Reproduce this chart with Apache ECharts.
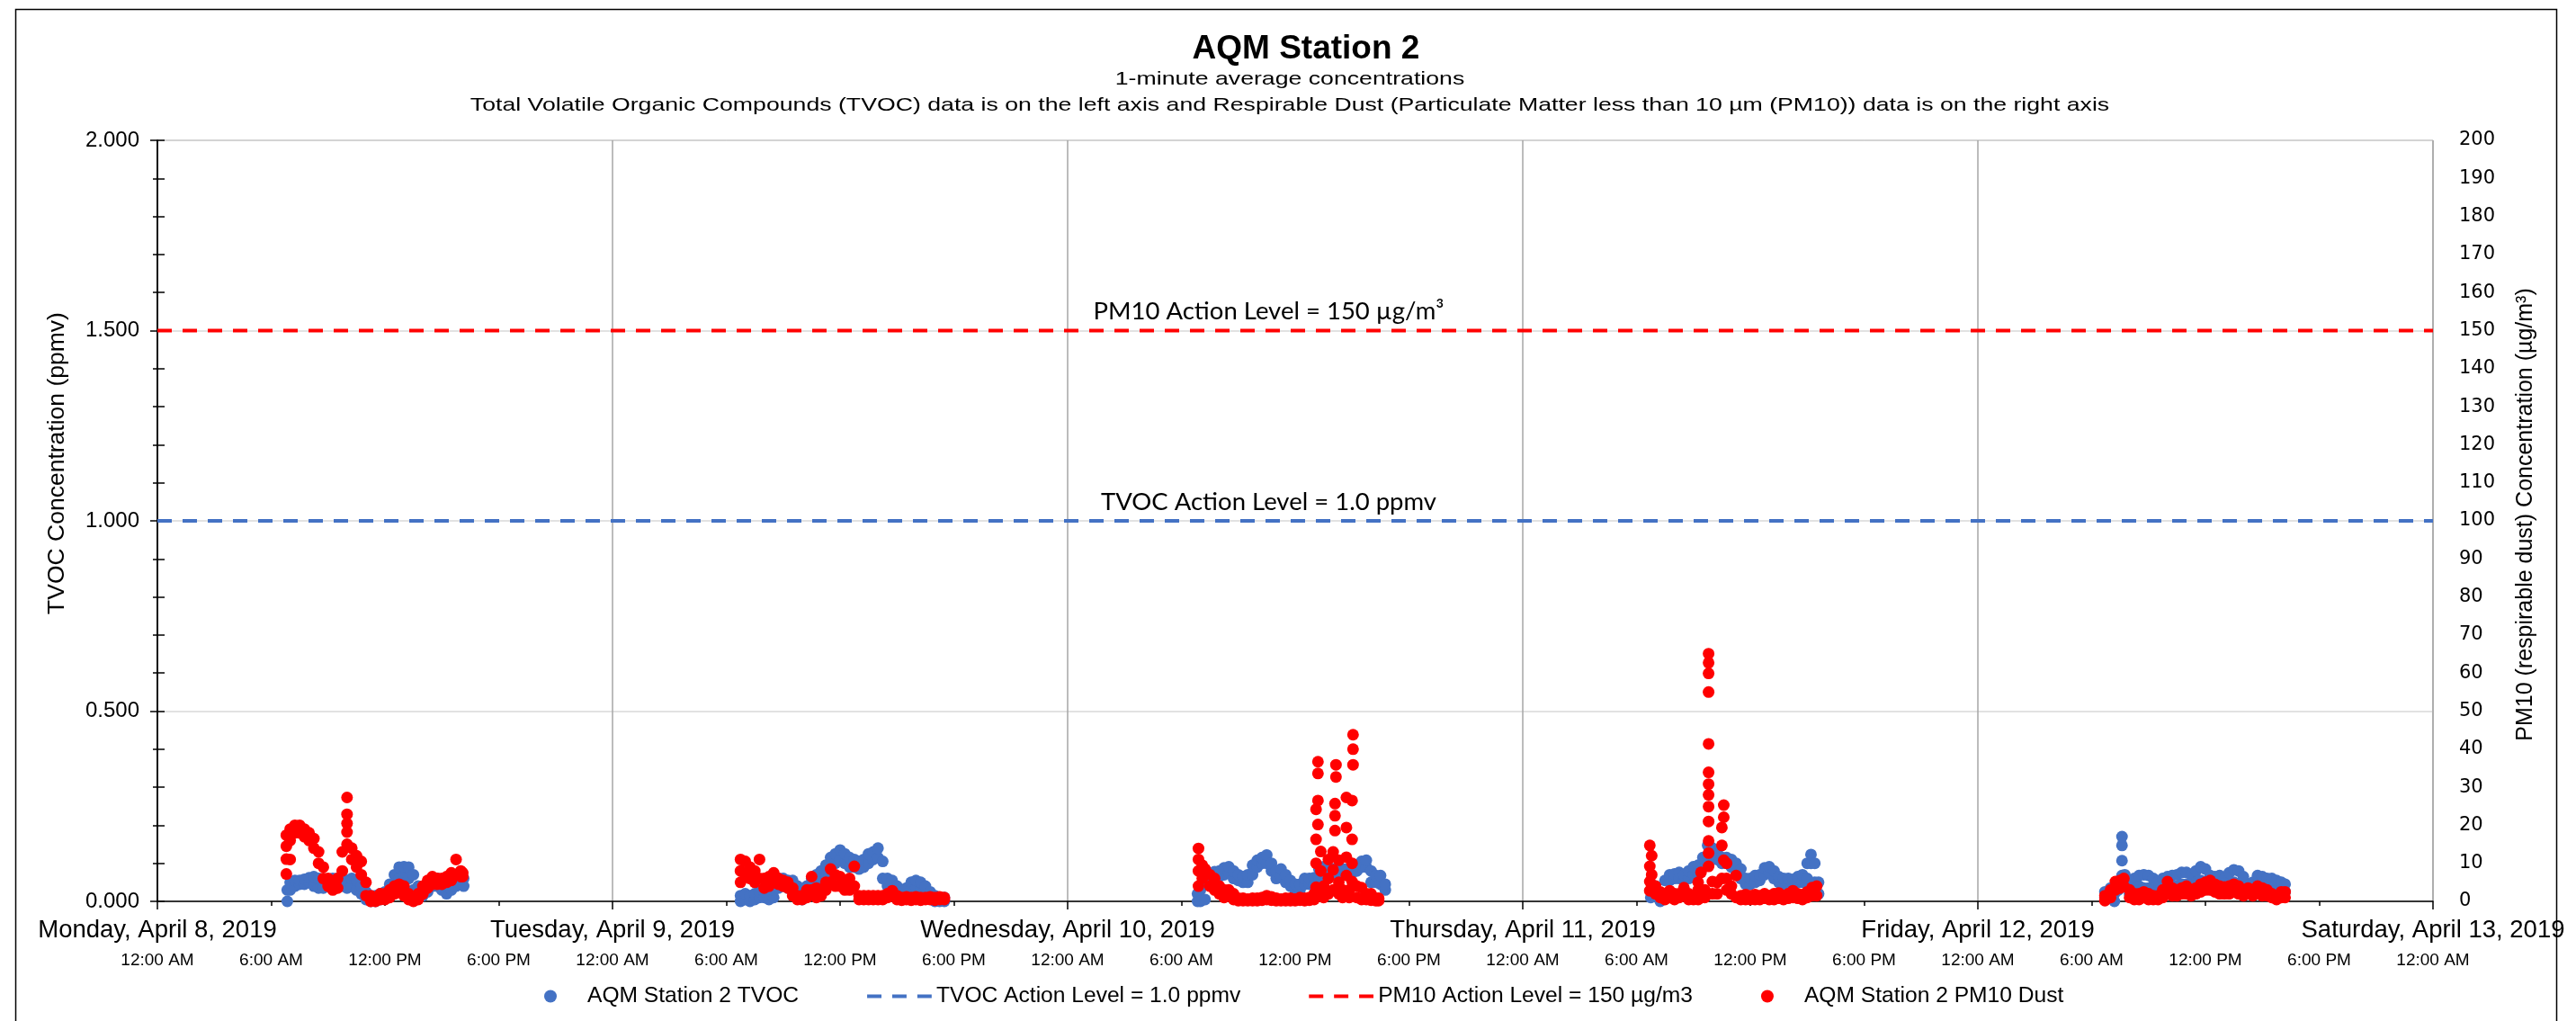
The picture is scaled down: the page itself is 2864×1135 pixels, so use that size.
<!DOCTYPE html>
<html>
<head>
<meta charset="utf-8">
<title>AQM Station 2</title>
<script src="https://cdn.jsdelivr.net/npm/echarts@6/dist/echarts.min.js"></script>
<style>
    html, body { margin: 0; padding: 0; background: #fff; }
    #container { width: 2864px; height: 1135px; }
</style>
</head>
<body>
<div id="container"></div>
<script>
//DATA
var dayLabels = ['Monday, April 8, 2019', 'Tuesday, April 9, 2019', 'Wednesday, April 10, 2019',
    'Thursday, April 11, 2019', 'Friday, April 12, 2019', 'Saturday, April 13, 2019'];
var timeLabels = ['12:00 AM', '6:00 AM', '12:00 PM', '6:00 PM'];
var tvocAction = 1.0;
var pm10Action = 150;

// each row: [hour of the day, readings at that time...]  TVOC in ppmv, PM10 in ug/m3
var tvocMon = [[6.85,0.0,0.03],[7.0,0.03,0.05],[7.25,0.04,0.055],[7.5,0.045,0.055],[7.75,0.045,0.058],[8.0,0.05,0.062],[8.25,0.04,0.065],[8.5,0.035,0.06],[8.75,0.035,0.055],[9.0,0.04,0.055],[9.25,0.04,0.06],[9.5,0.04,0.06],[9.75,0.04,0.06],[10.0,0.035,0.055],[10.25,0.04,0.06],[10.5,0.03,0.055],[10.75,0.02,0.04],[11.0,0.005,0.025],[11.25,0.0,0.015],[11.5,0.0,0.015],[11.75,0.005,0.02],[12.0,0.01,0.025],[12.25,0.015,0.045],[12.5,0.04,0.07],[12.75,0.06,0.09],[13.0,0.07,0.091],[13.25,0.06,0.09],[13.5,0.03,0.07],[13.75,0.01,0.04],[14.0,0.015,0.035],[14.25,0.025,0.045],[14.5,0.04,0.06],[14.75,0.04,0.06],[15.0,0.03,0.05],[15.25,0.02,0.04],[15.5,0.03,0.055],[15.75,0.04,0.06],[16.0,0.045,0.065],[16.15,0.04,0.06]];
var pm10Mon = [[6.8,7.2,11.1,14.5,17.4],[7.0,11,16,19],[7.25,18,20],[7.5,18,20],[7.75,17,19],[8.0,16,18],[8.25,14,16.5],[8.5,10,13],[8.75,6,9],[9.0,4,6],[9.25,3,5],[9.5,3.5,6],[9.75,8,13],[10.0,15,18.2,20.5,22.9,27.3],[10.25,11,14],[10.5,9,12],[10.75,7,10.5],[11.0,1.5,5],[11.25,0,1.5],[11.5,0,1],[11.75,0.5,2],[12.0,0.5,2],[12.25,1,3],[12.5,2,4],[12.75,2.5,4.5],[13.0,1.5,4],[13.25,0.5,2],[13.5,0,1],[13.75,0.5,2],[14.0,2,4],[14.25,3.5,5.5],[14.5,4.5,6.5],[14.75,4.5,6],[15.0,4.5,6],[15.25,5,6.5],[15.5,5.5,7.5],[15.75,7,11],[16.0,6.5,8],[16.1,6.5,7.5]];

var tvocTue = [[6.75,0.0,0.015],[7.0,0.005,0.02],[7.25,0.0,0.015],[7.5,0.005,0.02],[7.75,0.01,0.025],[8.0,0.01,0.025],[8.25,0.005,0.02],[8.5,0.01,0.03],[8.75,0.035,0.06],[9.0,0.04,0.06],[9.25,0.035,0.055],[9.5,0.035,0.055],[9.75,0.01,0.04],[10.0,0.005,0.02],[10.25,0.015,0.04],[10.5,0.03,0.06],[10.75,0.05,0.07],[11.0,0.06,0.08],[11.25,0.07,0.095],[11.5,0.09,0.115],[11.75,0.1,0.125],[12.0,0.11,0.135],[12.25,0.1,0.125],[12.5,0.09,0.115],[12.75,0.09,0.11],[13.0,0.085,0.105],[13.25,0.09,0.11],[13.5,0.1,0.125],[13.75,0.11,0.13],[14.0,0.115,0.14],[14.25,0.06,0.105],[14.5,0.04,0.06],[14.75,0.035,0.055],[15.0,0.025,0.04],[15.25,0.015,0.03],[15.5,0.015,0.035],[15.75,0.03,0.05],[16.0,0.035,0.055],[16.25,0.03,0.05],[16.5,0.02,0.04],[16.75,0.01,0.025],[17.0,0.0,0.015],[17.25,0.0,0.01],[17.5,0.0,0.01]];
var pm10Tue = [[6.75,5,8,11],[7.0,7,10.5],[7.25,6,9],[7.5,5,8],[7.75,6,11],[8.0,3.5,6],[8.25,4,6.5],[8.5,5,7.5],[8.75,4.5,6],[9.0,4,5.5],[9.25,3.5,5],[9.5,1.5,3.5],[9.75,0.5,1.5],[10.0,0.5,1.5],[10.25,1,3],[10.5,3,6.5],[10.75,1,3.5],[11.0,1.5,3],[11.25,3,5],[11.5,5,8.5],[11.75,4,7],[12.0,4,6.5],[12.25,3,5],[12.5,3,6],[12.75,4,9.2],[13.0,0.5,1.5],[13.25,0.5,1.5],[13.5,0.5,1.5],[13.75,0.5,1.5],[14.0,0.5,1.5],[14.25,0.5,1.5],[14.5,1,2],[14.75,1.5,2.8],[15.0,0.5,1.5],[15.25,0.3,1],[15.5,0.5,1.2],[15.75,0.3,1],[16.0,0.5,1.2],[16.25,0.3,1],[16.5,0.5,1],[16.75,0.5,1.2],[17.0,0.3,1],[17.25,0.5,1.2],[17.5,0.5,1]];

var tvocWed = [[6.85,0.0,0.02],[7.0,0.0,0.03],[7.25,0.005,0.05],[7.5,0.05,0.07],[7.75,0.06,0.078],[8.0,0.065,0.08],[8.25,0.07,0.088],[8.5,0.075,0.091],[8.75,0.06,0.08],[9.0,0.055,0.07],[9.25,0.05,0.065],[9.5,0.05,0.07],[9.75,0.07,0.095],[10.0,0.09,0.108],[10.25,0.1,0.115],[10.5,0.1,0.122],[10.75,0.08,0.1],[11.0,0.06,0.08],[11.25,0.065,0.085],[11.5,0.05,0.07],[11.75,0.04,0.055],[12.0,0.03,0.045],[12.25,0.03,0.045],[12.5,0.045,0.06],[12.75,0.045,0.06],[13.0,0.045,0.062],[13.25,0.065,0.085],[13.5,0.075,0.091],[13.75,0.07,0.085],[14.0,0.07,0.085],[14.25,0.065,0.085],[14.5,0.07,0.085],[14.75,0.07,0.085],[15.0,0.075,0.09],[15.25,0.08,0.095],[15.5,0.09,0.105],[15.75,0.09,0.108],[16.0,0.05,0.08],[16.25,0.05,0.068],[16.5,0.045,0.068],[16.75,0.03,0.045]];
var pm10Wed = [[6.9,4,8,11,13.9],[7.1,6,9.5],[7.25,7,8.5],[7.5,4,7],[7.75,3,6],[8.0,2,4],[8.25,1,3],[8.5,1.5,3],[8.75,0.5,2],[9.0,0.2,0.8],[9.25,0.2,0.8],[9.5,0.2,0.6],[9.75,0.2,0.8],[10.0,0.2,0.8],[10.25,0.3,1],[10.5,0.5,1.5],[10.75,0.3,1.2],[11.0,0.2,0.8],[11.25,0.2,0.6],[11.5,0.2,0.8],[11.75,0.2,0.8],[12.0,0.2,0.6],[12.25,0.3,1],[12.5,0.2,0.8],[12.75,0.3,1],[13.0,0.5,2],[13.1,3.7,10,16.3,24.2],[13.2,20.2,26.5,33.6,36.7],[13.35,3,8,13.1],[13.5,1,4],[13.75,2,6,11],[14.0,3,8.3,13],[14.1,18.6,22.5,25.7],[14.15,32.7,35.9],[14.3,2,5,10.8],[14.5,1,3],[14.7,6.8,11.6,19.4,27.3],[14.85,1,3],[15.0,5.2,10,16.3,26.5],[15.05,35.9,40,43.8],[15.25,1,4],[15.5,0.5,3.6],[15.75,0.5,2],[16.0,0.3,2],[16.25,0.2,0.8],[16.4,0.2,0.8]];

var tvocThu = [[6.75,0.01,0.03],[7.0,0.02,0.04],[7.25,0.0,0.02],[7.5,0.02,0.055],[7.75,0.055,0.07],[8.0,0.06,0.072],[8.25,0.06,0.076],[8.5,0.055,0.07],[8.75,0.06,0.08],[9.0,0.07,0.091],[9.25,0.075,0.095],[9.5,0.09,0.115],[9.75,0.11,0.147],[10.0,0.12,0.14],[10.25,0.11,0.13],[10.5,0.1,0.115],[10.75,0.1,0.115],[11.0,0.09,0.11],[11.25,0.08,0.1],[11.5,0.06,0.085],[11.75,0.045,0.06],[12.0,0.045,0.06],[12.25,0.05,0.068],[12.5,0.055,0.07],[12.75,0.07,0.088],[13.0,0.075,0.091],[13.25,0.06,0.08],[13.5,0.05,0.065],[13.75,0.045,0.06],[14.0,0.045,0.06],[14.25,0.045,0.058],[14.5,0.05,0.065],[14.75,0.05,0.07],[15.0,0.06,0.1],[15.2,0.1,0.123],[15.4,0.05,0.1],[15.6,0.02,0.05]];
var pm10Thu = [[6.7,2.8,5.2,9.2,14.7],[6.8,3,7,12],[7.0,2,4],[7.25,1,2.5],[7.5,0.5,2],[7.75,1,2.8],[8.0,0.5,2],[8.25,1,2],[8.5,1.5,3.6],[8.75,0.5,2],[9.0,0.5,1.5],[9.25,0.5,3,5],[9.4,1,7.6],[9.6,1,3],[9.8,9.2,12.7,15.9,21,24.9,28,30.8,33.9,41.4,55,59.9,62.7,65.1],[10.0,2,5.2],[10.25,2,5],[10.5,6,14.7,19.4],[10.6,10.8,22.1,25.3],[10.75,3,6,10],[11.0,2,4],[11.25,1,6.8],[11.5,0.5,1.5],[11.75,0.5,1.8],[12.0,0.5,1.5],[12.25,0.5,1.8],[12.5,0.5,1.5],[12.75,0.8,2],[13.0,0.5,1.5],[13.25,0.5,2],[13.5,0.8,2.2],[13.75,0.5,1.5],[14.0,0.8,2],[14.25,1,2.8],[14.5,0.8,2],[14.75,0.5,1.8],[15.0,1,2.5],[15.25,1.5,3.6],[15.5,1.5,4]];

var tvocFri = [[6.7,0.01,0.025],[7.0,0.02,0.035],[7.2,0.0,0.02],[7.4,0.03,0.05],[7.6,0.068,0.107,0.147,0.17],[7.75,0.04,0.07],[8.0,0.02,0.04],[8.25,0.035,0.06],[8.5,0.04,0.068],[8.75,0.035,0.07],[9.0,0.035,0.068],[9.25,0.03,0.06],[9.5,0.03,0.052],[9.75,0.03,0.06],[10.0,0.035,0.065],[10.25,0.04,0.068],[10.5,0.04,0.07],[10.75,0.045,0.076],[11.0,0.045,0.076],[11.25,0.04,0.07],[11.5,0.05,0.08],[11.75,0.055,0.091],[12.0,0.05,0.085],[12.25,0.04,0.068],[12.5,0.04,0.065],[12.75,0.04,0.068],[13.0,0.035,0.06],[13.25,0.04,0.075],[13.5,0.05,0.083],[13.75,0.045,0.08],[14.0,0.035,0.065],[14.25,0.025,0.044],[14.5,0.03,0.05],[14.75,0.04,0.068],[15.0,0.035,0.065],[15.25,0.035,0.06],[15.5,0.03,0.06],[15.75,0.03,0.055],[16.0,0.025,0.05],[16.2,0.025,0.045]];
var pm10Fri = [[6.7,0.2,1.5],[7.0,1,3],[7.25,3,5.2],[7.5,3.5,5.5],[7.7,4,6],[8.0,1,3],[8.25,0.5,2],[8.5,0.5,2],[8.75,1,2.5],[9.0,0.5,2],[9.25,0.5,1.5],[9.5,0.5,1.5],[9.75,1,3],[10.0,2.5,5.2],[10.25,1.5,3.5],[10.5,1.5,3],[10.75,2,3.5],[11.0,2,4],[11.25,1.5,3],[11.5,2,3.5],[11.75,2.5,4.5],[12.0,3,5],[12.25,3,5.5],[12.5,2.5,4.5],[12.75,2,4],[13.0,2,3.8],[13.25,2,4],[13.5,2.5,4.5],[13.75,2,4],[14.0,1.5,3],[14.25,2,3.5],[14.5,1.5,3],[14.75,2,4],[15.0,1.5,3.5],[15.25,1.5,3],[15.5,1,2],[15.75,0.5,1.5],[16.0,1,2.5],[16.2,1,2.5]];

// x is counted in hours from Monday 12:00 AM
function onDay(day, rows) {
    var out = [];
    rows.forEach(function (r) {
        for (var k = 1; k < r.length; k++) { out.push([day * 24 + r[0], r[k]]); }
    });
    return out;
}
var tvocData = [].concat(onDay(0, tvocMon), onDay(1, tvocTue), onDay(2, tvocWed), onDay(3, tvocThu), onDay(4, tvocFri));
var pm10Data = [].concat(onDay(0, pm10Mon), onDay(1, pm10Tue), onDay(2, pm10Wed), onDay(3, pm10Thu), onDay(4, pm10Fri));

var BLUE = '#4472C4', RED = '#FF0000';
var FONT = 'Liberation Sans, Arial, sans-serif';
// three short dashes for the action level legend keys
var DASH_ICON = 'path://M0,5h16v4h-16zM28,5h16v4h-16zM56,5h16v4h-16zM0,0h0.05v0.05h-0.05zM0,14h0.05v0.05h-0.05z';

var dom = document.getElementById("container");
var myChart = echarts.init(dom);
var option = null;
option = {
    animation: false,
    backgroundColor: '#fff',
    textStyle: { fontFamily: FONT, color: '#000' },
    grid: { left: 175, right: 159, top: 156, bottom: 133, show: true, borderColor: '#8c8c8c', borderWidth: 1 },
    legend: {
        left: 600,
        top: 1090,
        itemWidth: 72,
        itemHeight: 14,
        itemGap: 76,
        textStyle: { fontFamily: FONT, fontSize: 24.6, color: '#000' },
        data: [
            { name: 'AQM Station 2 TVOC', icon: 'circle' },
            { name: 'TVOC Action Level = 1.0 ppmv', icon: DASH_ICON },
            { name: 'PM10 Action Level = 150 \u00b5g/m3', icon: DASH_ICON },
            { name: 'AQM Station 2 PM10 Dust', icon: 'circle' }
        ]
    },
    xAxis: [
        {   // 6 hour ticks and time labels
            type: 'value', min: 0, max: 120, interval: 6, position: 'bottom',
            axisLine: { show: true, onZero: false, lineStyle: { color: '#000', width: 1.5 } },
            axisTick: { show: true, length: 5, lineStyle: { color: '#000', width: 1.5 } },
            splitLine: { show: false },
            axisLabel: {
                margin: 56, fontSize: 19, color: '#000', fontFamily: FONT,
                showMinLabel: true, showMaxLabel: true,
                formatter: function (v) { return timeLabels[Math.round(v / 6) % 4]; }
            }
        },
        {   // day lines and date labels
            type: 'value', min: 0, max: 120, interval: 24, position: 'bottom',
            axisLine: { show: false, onZero: false },
            axisTick: { show: true, length: 9, lineStyle: { color: '#000', width: 1.5 } },
            splitLine: { show: true, lineStyle: { color: '#a6a6a6', width: 1.5 } },
            axisLabel: {
                margin: 18, fontSize: 27.5, color: '#000', fontFamily: FONT,
                showMinLabel: true, showMaxLabel: true,
                formatter: function (v) { return dayLabels[Math.round(v / 24)]; }
            }
        }
    ],
    yAxis: [
        {
            type: 'value', min: 0, max: 2, interval: 0.5, position: 'left',
            axisLine: { show: true, lineStyle: { color: '#000', width: 1.5 } },
            axisTick: { show: true, length: 8, lineStyle: { color: '#000', width: 1.5 } },
            minorTick: { show: true, splitNumber: 5, length: 5, lineStyle: { color: '#000', width: 1.5 } },
            splitLine: { show: true, lineStyle: { color: '#d9d9d9', width: 1.5 } },
            axisLabel: {
                margin: 20, fontSize: 24, color: '#000', fontFamily: FONT,
                formatter: function (v) { return v.toFixed(3); }
            }
        },
        {
            type: 'value', min: 0, max: 200, interval: 10, position: 'right',
            axisLine: { show: true, lineStyle: { color: '#000', width: 1.5 } },
            axisTick: { show: true, length: 8, lineStyle: { color: '#000', width: 1.5 } },
            splitLine: { show: false },
            axisLabel: { margin: 29, fontSize: 21, color: '#000', fontFamily: 'DejaVu Sans, sans-serif' }
        }
    ],
    series: [
        {
            name: 'AQM Station 2 TVOC', type: 'scatter', xAxisIndex: 0, yAxisIndex: 0,
            symbol: 'circle', symbolSize: 13,
            itemStyle: { color: BLUE, opacity: 1 },
            data: tvocData
        },
        {
            name: 'TVOC Action Level = 1.0 ppmv', type: 'line', xAxisIndex: 0, yAxisIndex: 0,
            symbol: 'none', silent: true,
            lineStyle: { color: BLUE, width: 4, type: [16, 12] },
            itemStyle: { color: BLUE },
            data: [[0, tvocAction], [120, tvocAction]]
        },
        {
            name: 'PM10 Action Level = 150 \u00b5g/m3', type: 'line', xAxisIndex: 0, yAxisIndex: 1,
            symbol: 'none', silent: true,
            lineStyle: { color: RED, width: 4, type: [16, 12] },
            itemStyle: { color: RED },
            data: [[0, pm10Action], [120, pm10Action]]
        },
        {
            name: 'AQM Station 2 PM10 Dust', type: 'scatter', xAxisIndex: 0, yAxisIndex: 1,
            symbol: 'circle', symbolSize: 13,
            itemStyle: { color: RED, opacity: 1 },
            data: pm10Data
        }
    ]
};
if (option && typeof option === "object") {
    myChart.setOption(option, true);
}

// titles, axis titles and the action level captions that sit just above their lines
var labelHour = 58.6;
var pTvoc = myChart.convertToPixel({ xAxisIndex: 0, yAxisIndex: 0 }, [labelHour, tvocAction]);
var pPm = myChart.convertToPixel({ xAxisIndex: 0, yAxisIndex: 1 }, [labelHour, pm10Action]);
var capStyle = { fontFamily: 'Lato, sans-serif', fontSize: 27.5, fill: '#000', textAlign: 'center', textVerticalAlign: 'middle' };
function textAt(text, x, y, size, weight, sx, rot) {
    return {
        type: 'text', x: x, y: y, scaleX: sx, rotation: rot || 0, silent: true,
        style: { text: text, fontFamily: FONT, fontSize: size, fontWeight: weight, fill: '#000', textAlign: 'center', textVerticalAlign: 'middle' }
    };
}
myChart.setOption({
    graphic: [
        { type: 'rect', left: 15, top: 8, silent: true,
          shape: { width: 2825, height: 1140 }, style: { fill: null, stroke: '#000', lineWidth: 1.5 } },
        textAt('AQM Station 2', 1452, 55, 37, 'bold', 1),
        textAt('1-minute average concentrations', 1434, 88, 21, 'normal', 1.27),
        textAt('Total Volatile Organic Compounds (TVOC) data is on the left axis and Respirable Dust (Particulate Matter less than 10 \u00b5m (PM10)) data is on the right axis', 1434, 117, 21, 'normal', 1.27),
        textAt('TVOC Concentration (ppmv)', 64, 515, 26.5, 'normal', 1, Math.PI / 2),
        textAt('PM10 (respirable dust) Concentration (\u00b5g/m\u00b3)', 2808, 572, 25, 'normal', 1, Math.PI / 2),
        { type: 'text', x: pPm[0], y: pPm[1] - 21, silent: true,
          style: Object.assign({ text: 'PM10 Action Level = 150 \u00b5g/m\u00b3' }, capStyle) },
        { type: 'text', x: pTvoc[0], y: pTvoc[1] - 21, silent: true,
          style: Object.assign({ text: 'TVOC Action Level = 1.0 ppmv' }, capStyle) }
    ]
});
</script>
</body>
</html>
